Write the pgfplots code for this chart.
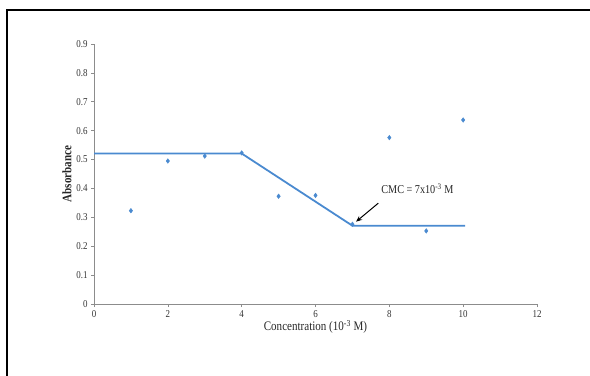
\documentclass[border=0pt]{standalone}
\usepackage{pgfplots}
\pgfplotsset{compat=1.18}
\usepackage{fontspec}
\setmainfont{Liberation Serif}[FakeStretch=0.85]
\usetikzlibrary{arrows.meta}
\definecolor{ser}{HTML}{4A8AD0}
\definecolor{axgray}{HTML}{8C8C8C}
\begin{document}
\begin{tikzpicture}
\path[use as bounding box] (0,0) rectangle (590bp,376bp);
\draw[line width=2bp] (7bp,0) -- (7bp,366bp) -- (591bp,366bp);
\begin{axis}[
  at={(94bp,72bp)}, anchor=south west,
  width=443bp, height=260bp, scale only axis,
  xmin=0, xmax=12, ymin=0, ymax=0.9,
  axis x line*=bottom, axis y line*=left,
  axis line style={axgray, line width=0.6bp},
  xtick={0,2,4,6,8,10,12},
  ytick={0,0.1,0.2,0.3,0.4,0.5,0.6,0.7,0.8,0.9},
  tick align=outside, major tick length=3bp,
  tick style={axgray, line width=0.6bp},
  /pgf/number format/assume math mode=true,
  /pgf/number format/fixed, /pgf/number format/precision=1,
  ticklabel style={font=\fontsize{10.5bp}{12bp}\selectfont, text=black!80},
  xlabel={Concentration (10\textsuperscript{-3} M)},
  ylabel={\textbf{Absorbance}},
  label style={font=\fontsize{13bp}{15bp}\selectfont, text=black!85},
  xlabel style={at={(0.5,0)}, anchor=center, yshift=-23bp},
  ylabel style={at={(0,0.5)}, anchor=center, yshift=27bp},
  clip=false,
]
\addplot[only marks, mark=diamond*, mark size=2.3bp, color=ser] coordinates {
  (1,0.323) (2,0.495) (3,0.512) (4,0.523) (5,0.373)
  (6,0.376) (7,0.276) (8,0.576) (9,0.253) (10,0.637)
};
\addplot[color=ser, line width=1.8bp, mark=none] coordinates {
  (0,0.521) (4,0.521) (7,0.271) (10.05,0.271)
};
\draw[-{Stealth[length=6bp,width=5bp]}, line width=1bp] (axis cs:7.70,0.349) -- (axis cs:7.10,0.285);
\node[anchor=west, font=\fontsize{12bp}{14bp}\selectfont, text=black!85, inner sep=0pt] at (axis cs:7.78,0.398) {CMC = 7x10\textsuperscript{-3} M};
\end{axis}
\end{tikzpicture}
\end{document}
